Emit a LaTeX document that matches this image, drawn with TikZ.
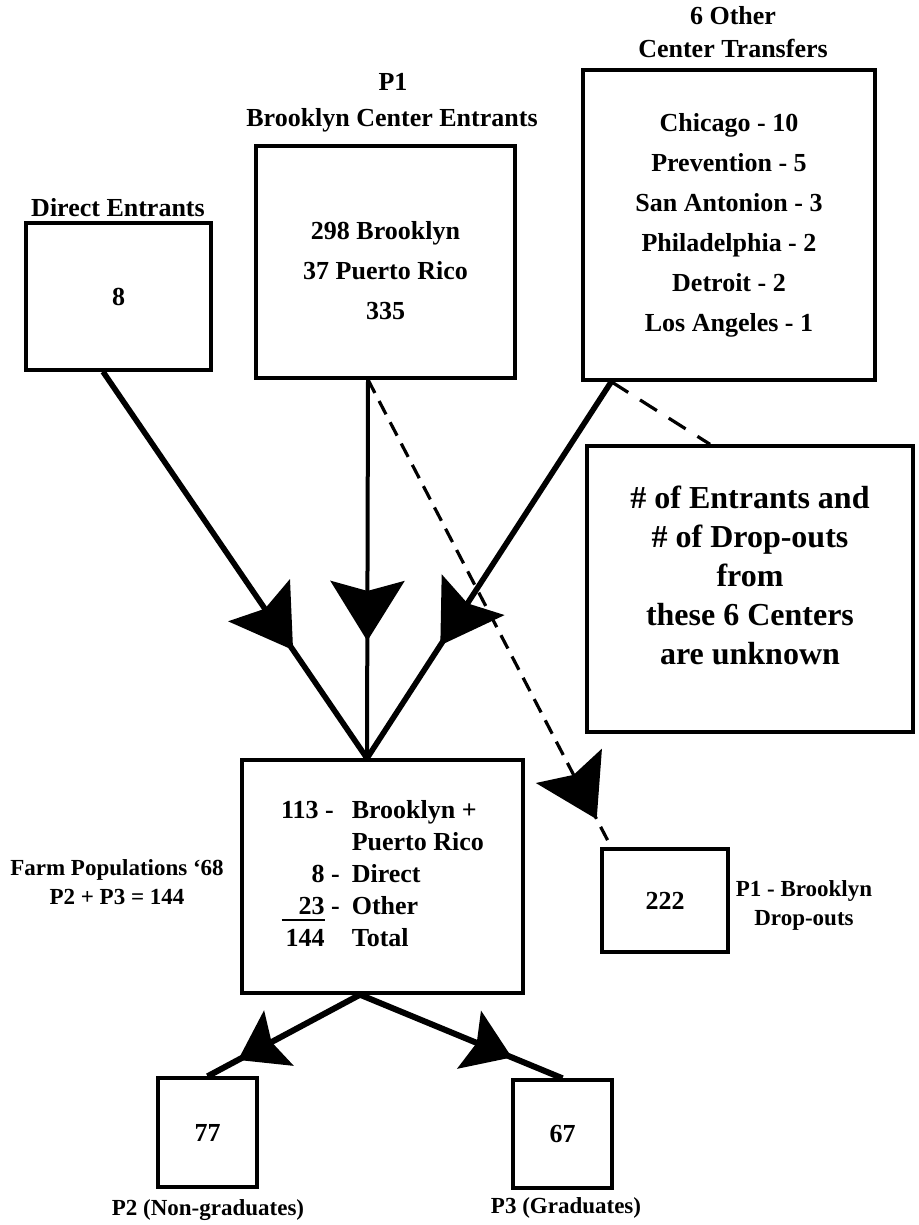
\documentclass[tikz,border=0pt]{standalone}
\usepackage{fontspec}
\setmainfont{Liberation Serif}
\usetikzlibrary{arrows.meta,decorations.markings}

\begin{document}
\begin{tikzpicture}[x=0.5pt, y=-0.5pt,
          plainbox/.style={rectangle, draw=black, line width=1.7pt, inner sep=0pt,
            align=center, font=\fontsize{13}{20}\selectfont\bfseries},
          boxtext/.style={inner sep=0pt, align=center, font=\fontsize{13}{20}\selectfont\bfseries},
          headlabel/.style={inner sep=0pt, align=center, font=\fontsize{13}{16.5}\selectfont\bfseries},
          smalllabel/.style={inner sep=0pt, align=center, font=\fontsize{11.5}{14.5}\selectfont\bfseries},
          flowline/.style={line width=2.8pt},
          midtip/.style={decoration={markings, mark=at position #1 with
              {\arrow{Stealth[length=30pt, width=37pt, inset=5pt]}}}, postaction={decorate}},
          lowtip/.style={decoration={markings, mark=at position #1 with
              {\arrow{Stealth[length=23pt, width=31pt, inset=4pt]}}}, postaction={decorate}}]

        \useasboundingbox (0,0) rectangle (919,1225);

        % sources
        \node[headlabel] (directlab) at (118,208) {Direct Entrants};
        \node[plainbox, minimum width=92.5pt, minimum height=73.5pt] (direct) at (118.5,296.5) {8};

        \node[headlabel] (p1lab)    at (393,82)  {P1};
        \node[headlabel] (brooklab) at (392,120) {Brooklyn Center Entrants};
        \node[plainbox, minimum width=129.5pt, minimum height=116pt] (brook) at (385.5,262) {};
        \node[boxtext] (brooktxt) at ([yshift=-4.5pt]brook.center) {298 Brooklyn\\37 Puerto Rico\\335};

        \node[headlabel] (otherlab) at (733,32) {6 Other\\Center Transfers};
        \node[plainbox, minimum width=146pt, minimum height=155pt] (other) at (729,225)
          {Chicago - 10\\Prevention - 5\\San Antonion - 3\\Philadelphia - 2\\Detroit - 2\\Los Angeles - 1};

        \node[plainbox, minimum width=163pt, minimum height=143pt] (unknown) at (750,589) {};
        \node[boxtext, font=\fontsize{16}{19.5}\selectfont\bfseries] (unknowntxt) at ([yshift=7pt]unknown.center)
          {\# of Entrants and\\\# of Drop-outs\\from\\these 6 Centers\\are unknown};

        % farm population
        \node[plainbox, minimum width=140.5pt, minimum height=116.5pt,
          font=\fontsize{13}{16}\selectfont\bfseries] (total) at (382.5,876.5)
          {\begin{tabular}{@{}r@{\hspace{6pt}}l@{}}
             113 -\hspace{3pt} & Brooklyn +\\
                               & Puerto Rico\\
             8 -               & Direct\\
             23\makebox[0pt][r]{\rule[-3pt]{21.5pt}{0.9pt}} - & Other\\
             144\phantom{ -}   & Total
           \end{tabular}};
        \node[smalllabel] (farmlab) at (117,882) {Farm Populations \textquoteleft 68\\P2 + P3 = 144};

        \node[plainbox, minimum width=63pt, minimum height=51.5pt] (drop) at (665,900.5) {222};
        \node[smalllabel] (droplab) at (804,905) {P1 - Brooklyn\\Drop-outs};

        \node[plainbox, minimum width=49.5pt, minimum height=54.5pt] (nongrad) at (207.5,1132.5) {77};
        \node[smalllabel] (nongradlab) at (208,1210) {P2 (Non-graduates)};
        \node[plainbox, minimum width=49.5pt, minimum height=54pt] (grad) at (562.5,1134) {67};
        \node[smalllabel] (gradlab) at (566,1208) {P3 (Graduates)};

        \draw[flowline, midtip=0.72] ([xshift=-7.75pt]direct.south) -- ([xshift=-7.75pt]total.north);
        \draw[flowline, line width=2pt, midtip=0.69] ([xshift=-8.75pt]brook.south) -- ([xshift=-7.75pt]total.north);
        \draw[flowline, midtip=0.70] ([xshift=15pt]other.south west) -- ([xshift=-7.75pt]total.north);

        \draw[line width=1.6pt, dash pattern=on 7.5pt off 4.5pt, midtip=0.94]
          ([xshift=-8.75pt]brook.south) -- ([xshift=5.5pt]drop.north west);
        \draw[line width=1.6pt, dash pattern=on 10pt off 7pt]
          ([xshift=15pt]other.south west) -- ([xshift=-20pt]unknown.north);

        \draw[flowline, line width=3pt, lowtip=0.80] ([xshift=-11.25pt]total.south) -- (nongrad.north);
        \draw[flowline, line width=3pt, lowtip=0.75] ([xshift=-11.25pt]total.south) -- (grad.north);

      \end{tikzpicture}
\end{document}
